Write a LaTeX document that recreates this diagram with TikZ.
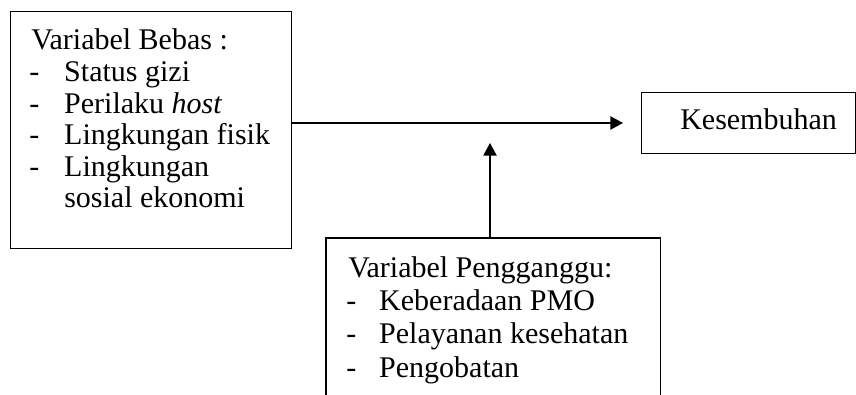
\documentclass[tikz,border=0pt]{standalone}
\usepackage{fontspec}
\setmainfont{Liberation Serif}
\usetikzlibrary{arrows.meta}
\begin{document}
\begin{tikzpicture}[x=0.75pt,y=-0.75pt,
  box/.style={draw, line width=1.1pt, rectangle, inner sep=0pt, anchor=north west},
  txt/.style={inner sep=0pt, anchor=base west, align=left},
  arr/.style={line width=1pt, -{Triangle[length=9.5pt,width=10pt]}}]
\useasboundingbox (0,0) rectangle (856,395);
% boxes
\node[box, minimum width=210.75pt, minimum height=177.75pt] (bebas) at (10,11) {};
\node[box, minimum width=160.5pt, minimum height=45.75pt] (sembuh) at (641,92) {};
\node[inner sep=0pt, anchor=north west, minimum width=250.5pt, minimum height=125pt] (ganggu) at (326,238) {};
\draw[line width=1.1pt] (ganggu.south west) -- (ganggu.north west) -- (ganggu.north east) -- (ganggu.south east);
% texts
\node[txt, font=\fontsize{22.5}{23.7}\selectfont] (bebastxt) at (29,50)
  {\begin{tabular}[t]{@{}p{26.25pt}@{}l@{}}
   \multicolumn{2}{@{}l@{}}{\hspace{1.5pt}Variabel Bebas :}\\
   - & Status gizi\\
   - & Perilaku \textit{host}\\
   - & Lingkungan fisik\\
   - & Lingkungan\\
     & sosial ekonomi
   \end{tabular}};
\node[txt, font=\fontsize{22.5}{25}\selectfont] (ganggutxt) at (346,277)
  {\begin{tabular}[t]{@{}p{24.75pt}@{}l@{}}
   \multicolumn{2}{@{}l@{}}{\hspace{1.5pt}Variabel Pengganggu:}\\
   - & Keberadaan PMO\\
   - & Pelayanan kesehatan\\
   - & Pengobatan
   \end{tabular}};
\node[txt, font=\fontsize{22.5}{23.7}\selectfont] (sembuhtxt) at (680,130) {Kesembuhan};
% arrows
\coordinate (htip) at (623,123);
\coordinate (vtip) at (490,143);
\draw[arr] (htip -| bebas.east) -- (htip);
\draw[arr] (vtip |- ganggu.north) -- (vtip);
\end{tikzpicture}
\end{document}
